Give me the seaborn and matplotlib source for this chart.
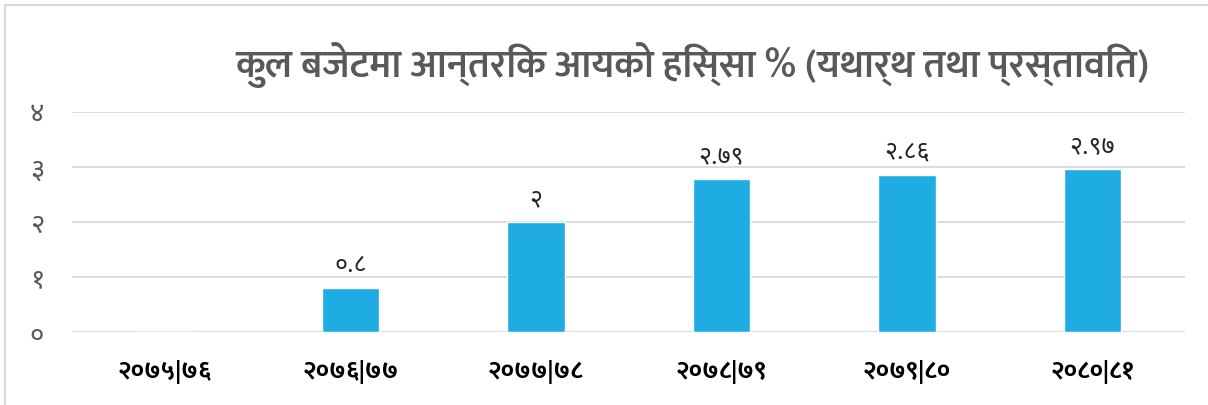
import matplotlib
matplotlib.use("Agg")
import matplotlib.pyplot as plt
import seaborn as sns
import pandas as pd
from matplotlib.patches import Rectangle

years = ["२०७५|७६", "२०७६|७७", "२०७७|७८", "२०७८|७९", "२०७९|८०", "२०८०|८१"]
share = [0, 0.8, 2, 2.79, 2.86, 2.97]
share_labels = ["", "०.८", "२", "२.७९", "२.८६", "२.९७"]
y_ticks = [0, 1, 2, 3, 4]
y_tick_labels = ["०", "१", "२", "३", "४"]

df = pd.DataFrame({"year": years, "share": share})

sns.set_style("white")
plt.rcParams["font.family"] = ["Noto Sans Devanagari", "DejaVu Sans"]

fig = plt.figure(figsize=(12.08, 4.05), dpi=100)
ax = fig.add_axes([0.0596, 0.180, 0.9214, 0.5435])

sns.barplot(data=df, x="year", y="share", color="#1EACE2", saturation=1,
            width=0.31, ax=ax)

# value labels above the bars (no label for the empty first year)
for i, (v, lab) in enumerate(zip(share, share_labels)):
    if lab:
        ax.text(i, v + 0.18, lab, ha="center", va="bottom", fontsize=18,
                color="#262626")

ax.set_xlim(-0.5, 5.5)
ax.set_ylim(0, 4)
ax.set_yticks(y_ticks)
ax.set_yticklabels(y_tick_labels, fontsize=20, color="#595959")
ax.set_xticks(range(len(years)))
ax.set_xticklabels(years, fontsize=18, color="black", fontweight="bold",
                   family=["Mukta", "Noto Sans Devanagari", "DejaVu Sans"])
ax.tick_params(axis="y", length=0, pad=20)
ax.tick_params(axis="x", length=0, pad=20)
ax.set_xlabel("")
ax.set_ylabel("")
ax.yaxis.grid(True, color="#d9d9d9", linewidth=1.3)
ax.set_axisbelow(True)
for s in ax.spines.values():
    s.set_visible(False)

fig.text(0.573, 0.84, "कुल बजेटमा आन्तरिक आयको हिस्सा % (यथार्थ तथा प्रस्तावित)",
         ha="center", va="center", fontsize=28, fontweight="semibold",
         color="#595959", family=["Mukta", "Noto Sans Devanagari", "DejaVu Sans"])

# light chart border (left and top edges visible)
fig.patches.append(Rectangle((5 / 1208, -0.1), 1.2, 1 - 5 / 405 + 0.1,
                             transform=fig.transFigure, fill=False,
                             edgecolor="#d9d9d9", linewidth=1.5))

fig.savefig("out.png", dpi=100)
